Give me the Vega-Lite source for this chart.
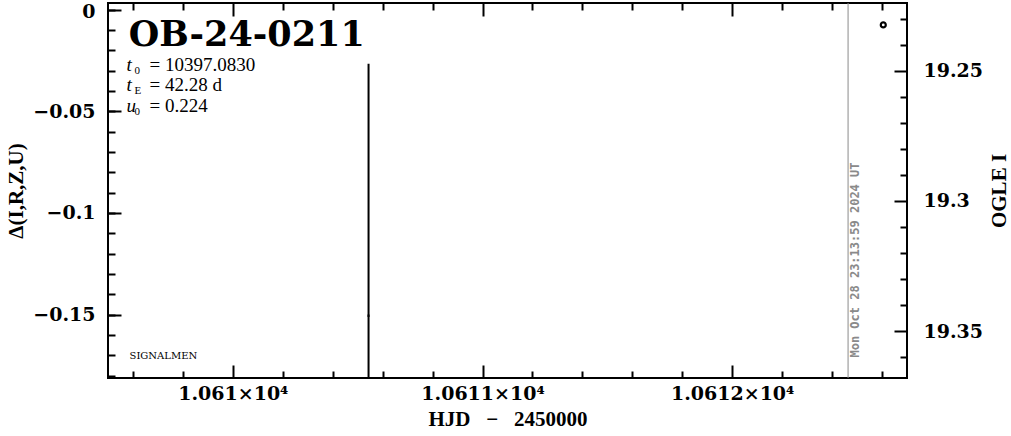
{
  "$schema": "https://vega.github.io/schema/vega-lite/v6.json",
  "width": 799,
  "height": 375,
  "autosize": "none",
  "padding": {"left": 108, "top": 3, "right": 104, "bottom": 58},
  "background": "white",
  "config": {
    "view": {"stroke": "black", "strokeWidth": 2},
    "axis": {
      "domain": false, "grid": false, "tickColor": "black", "tickWidth": 2,
      "labelColor": "black", "labelFont": "DejaVu Serif", "labelFontWeight": "bold", "labelFontSize": 19,
      "titleFont": "Liberation Serif", "titleFontWeight": "bold", "titleFontSize": 21, "titleColor": "black",
      "labelFlush": false, "labelOverlap": false
    }
  },
  "datasets": {
    "dm": [{"hjd": 10610.5435, "dmag": -0.1505, "lo": -0.2745, "hi": -0.0266}],
    "og": [{"hjd": 10612.605, "mag": 19.2324}],
    "ttl": [{"hjd": 10609.5835, "dmag": -0.01814, "txt": "OB-24-0211"}],
    "par": [
      {"hjd": 10609.5743, "dmag": -0.03042, "sym": "t", "sub": "0", "rest": "= 10397.0830"},
      {"hjd": 10609.5743, "dmag": -0.04025, "sym": "t", "sub": "E", "rest": "= 42.28 d"},
      {"hjd": 10609.5743, "dmag": -0.05057, "sym": "u", "sub": "0", "rest": "= 0.224"}
    ],
    "sig": [{"hjd": 10609.5863, "dmag": -0.1716, "txt": "SIGNALMEN"}],
    "date": [{"hjd": 10612.4898, "mag": 19.3227, "txt": "Mon Oct 28 23:13:59 2024 UT"}],
    "vline": [{"hjd": 10612.464}]
  },
  "resolve": {"scale": {"y": "independent"}, "axis": {"x": "independent", "y": "independent"}},
  "layer": [
    {
      "resolve": {"axis": {"x": "independent", "y": "independent"}},
      "layer": [
        {
          "data": {"name": "dm"},
          "mark": {"type": "rule", "color": "black", "strokeWidth": 2, "clip": true},
          "encoding": {
            "x": {"field": "hjd", "type": "quantitative", "scale": {"domain": [10609.5, 10612.7], "nice": false, "zero": false},
              "axis": {"orient": "bottom", "values": [10610, 10611, 10612], "tickSize": -13, "labelPadding": 19,
                "labelExpr": "format(datum.value/10000, '.5~g') + '×10⁴'", "title": "HJD \u2002\u2212\u2002 2450000", "titlePadding": 5}},
            "y": {"field": "hi", "type": "quantitative", "scale": {"domain": [-0.1811, 0.0032], "nice": false, "zero": false},
              "axis": {"orient": "left", "values": [0, -0.05, -0.1, -0.15], "tickSize": -13, "labelPadding": 26,
                "labelOffset": {"condition": {"test": "datum.value == 0", "value": 2}, "value": 0},
                "labelExpr": "datum.value == 0 ? '0' : '\u2212' + format(-datum.value, '~g')", "title": "\u0394(I,R,Z,U)", "titlePadding": 6}},
            "y2": {"field": "lo"}
          }
        },
        {
          "data": {"name": "dm"},
          "mark": {"type": "square", "color": "black", "size": 6, "filled": true},
          "encoding": {
            "x": {"field": "hjd", "type": "quantitative", "scale": {"domain": [10609.5, 10612.7], "nice": false, "zero": false},
              "axis": {"orient": "top", "values": [10610, 10611, 10612], "tickSize": -13, "labels": false, "title": null}},
            "y": {"field": "dmag", "type": "quantitative", "scale": {"domain": [-0.1811, 0.0032], "nice": false, "zero": false},
              "axis": {"orient": "left", "values": [0, -0.01, -0.02, -0.03, -0.04, -0.05, -0.06, -0.07, -0.08, -0.09, -0.1, -0.11, -0.12, -0.13, -0.14, -0.15, -0.16, -0.17, -0.18], "tickSize": -7, "labels": false, "title": null}}
          }
        },
        {
          "data": {"name": "ttl"},
          "mark": {"type": "text", "align": "left", "baseline": "alphabetic", "font": "DejaVu Serif", "fontWeight": "bold", "fontSize": 35, "color": "black"},
          "encoding": {
            "x": {"field": "hjd", "type": "quantitative", "scale": {"domain": [10609.5, 10612.7], "nice": false, "zero": false}, "axis": null},
            "y": {"field": "dmag", "type": "quantitative", "scale": {"domain": [-0.1811, 0.0032], "nice": false, "zero": false}, "axis": null},
            "text": {"field": "txt"}
          }
        },
        {
          "data": {"name": "par"},
          "mark": {"type": "text", "align": "left", "baseline": "alphabetic", "font": "Liberation Serif", "fontStyle": "italic", "fontSize": 19, "color": "black"},
          "encoding": {
            "x": {"field": "hjd", "type": "quantitative", "scale": {"domain": [10609.5, 10612.7], "nice": false, "zero": false}, "axis": null},
            "y": {"field": "dmag", "type": "quantitative", "scale": {"domain": [-0.1811, 0.0032], "nice": false, "zero": false}, "axis": null},
            "text": {"field": "sym"}
          }
        },
        {
          "data": {"name": "par"},
          "mark": {"type": "text", "align": "left", "baseline": "alphabetic", "font": "Liberation Serif", "fontSize": 11, "color": "black", "dx": 8, "dy": 3},
          "encoding": {
            "x": {"field": "hjd", "type": "quantitative", "scale": {"domain": [10609.5, 10612.7], "nice": false, "zero": false}, "axis": null},
            "y": {"field": "dmag", "type": "quantitative", "scale": {"domain": [-0.1811, 0.0032], "nice": false, "zero": false}, "axis": null},
            "text": {"field": "sub"}
          }
        },
        {
          "data": {"name": "par"},
          "mark": {"type": "text", "align": "left", "baseline": "alphabetic", "font": "Liberation Serif", "fontSize": 19, "color": "black", "dx": 23},
          "encoding": {
            "x": {"field": "hjd", "type": "quantitative", "scale": {"domain": [10609.5, 10612.7], "nice": false, "zero": false}, "axis": null},
            "y": {"field": "dmag", "type": "quantitative", "scale": {"domain": [-0.1811, 0.0032], "nice": false, "zero": false}, "axis": null},
            "text": {"field": "rest"}
          }
        },
        {
          "data": {"name": "sig"},
          "mark": {"type": "text", "align": "left", "baseline": "alphabetic", "font": "DejaVu Serif", "fontSize": 10, "color": "black"},
          "encoding": {
            "x": {"field": "hjd", "type": "quantitative", "scale": {"domain": [10609.5, 10612.7], "nice": false, "zero": false}, "axis": null},
            "y": {"field": "dmag", "type": "quantitative", "scale": {"domain": [-0.1811, 0.0032], "nice": false, "zero": false}, "axis": null},
            "text": {"field": "txt"}
          }
        }
      ]
    },
    {
      "resolve": {"axis": {"x": "independent", "y": "independent"}},
      "layer": [
        {
          "data": {"name": "og"},
          "mark": {"type": "point", "shape": "circle", "filled": false, "color": "black", "size": 25, "strokeWidth": 2.2, "opacity": 1},
          "encoding": {
            "x": {"field": "hjd", "type": "quantitative", "scale": {"domain": [10609.5, 10612.7], "nice": false, "zero": false},
              "axis": {"orient": "bottom", "values": [10609.6, 10609.8, 10610.2, 10610.4, 10610.6, 10610.8, 10611.2, 10611.4, 10611.6, 10611.8, 10612.2, 10612.4, 10612.6], "tickSize": -7, "labels": false, "title": null}},
            "y": {"field": "mag", "type": "quantitative", "scale": {"domain": [19.224, 19.368], "nice": false, "zero": false, "reverse": true},
              "axis": {"orient": "right", "values": [19.25, 19.3, 19.35], "tickSize": -13, "labelPadding": 29, "format": ".4~g",
                "title": "OGLE I", "titleAngle": 270, "titleBaseline": "top", "titlePadding": 6, "titleFontSize": 21}}
          }
        },
        {
          "data": {"name": "date"},
          "mark": {"type": "text", "angle": 270, "align": "center", "baseline": "middle", "font": "DejaVu Sans Mono", "fontWeight": "bold", "fontSize": 12, "color": "#8a8a8a"},
          "encoding": {
            "x": {"field": "hjd", "type": "quantitative", "scale": {"domain": [10609.5, 10612.7], "nice": false, "zero": false},
              "axis": {"orient": "top", "values": [10609.6, 10609.8, 10610.2, 10610.4, 10610.6, 10610.8, 10611.2, 10611.4, 10611.6, 10611.8, 10612.2, 10612.4, 10612.6], "tickSize": -7, "labels": false, "title": null}},
            "y": {"field": "mag", "type": "quantitative", "scale": {"domain": [19.224, 19.368], "nice": false, "zero": false, "reverse": true},
              "axis": {"orient": "right", "values": [19.23, 19.24, 19.26, 19.27, 19.28, 19.29, 19.31, 19.32, 19.33, 19.34, 19.36], "tickSize": -7, "labels": false, "title": null}},
            "text": {"field": "txt"}
          }
        },
        {
          "data": {"name": "vline"},
          "mark": {"type": "rule", "color": "#8a8a8a", "strokeWidth": 1},
          "encoding": {
            "x": {"field": "hjd", "type": "quantitative", "scale": {"domain": [10609.5, 10612.7], "nice": false, "zero": false}, "axis": null}
          }
        }
      ]
    }
  ]
}
